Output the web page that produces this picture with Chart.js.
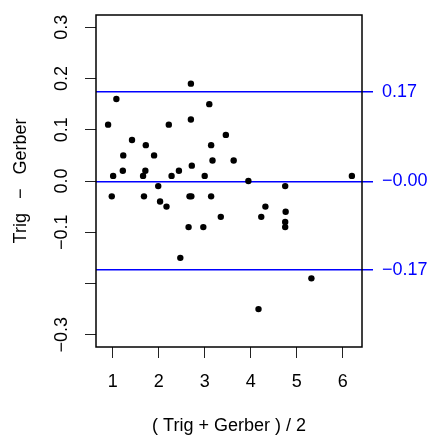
<!DOCTYPE html>
<html>
<head>
<meta charset="utf-8">
<script src="https://cdn.jsdelivr.net/npm/chart.js@4.4.1/dist/chart.umd.min.js"></script>
<style>
  html, body { margin: 0; padding: 0; background: #fff; }
  canvas { display: block; }
</style>
</head>
<body>
<canvas id="ba-chart" width="430" height="436"></canvas>
<script>
// mean of the two methods, and their difference
const meanValues = [
  2.70, 1.08, 3.10, 0.90, 2.22, 2.70, 3.46, 1.42, 1.72, 3.14, 1.23,
  1.90, 3.63, 3.17, 1.22, 1.71, 2.72, 2.44, 1.01, 1.66, 2.28, 3.00,
  1.99, 0.98, 1.68, 2.67, 2.71, 3.14, 2.03, 2.17, 3.95, 4.75, 6.20,
  4.32, 3.35, 2.65, 2.97, 2.47, 4.23, 4.76, 4.75, 4.75, 5.32, 4.17,
];
const diffValues = [
  0.19, 0.16, 0.15, 0.11, 0.11, 0.12, 0.09, 0.08, 0.07, 0.07, 0.05,
  0.05, 0.04, 0.04, 0.02, 0.02, 0.03, 0.02, 0.01, 0.01, 0.01, 0.01,
  -0.01, -0.03, -0.03, -0.03, -0.03, -0.03, -0.04, -0.05, 0.00, -0.01, 0.01,
  -0.05, -0.07, -0.09, -0.09, -0.15, -0.07, -0.06, -0.08, -0.09, -0.19, -0.25,
];

// mean difference and limits of agreement
const limitValues = [0.174, -0.001, -0.174];
const limitLabels = ['0.17', '\u22120.00', '\u22120.17'];

const xTicks = [1, 2, 3, 4, 5, 6];
const xTickLabels = ['1', '2', '3', '4', '5', '6'];
const yTicks = [-0.3, -0.2, -0.1, 0, 0.1, 0.2, 0.3];
const yTickLabels = ['\u22120.3', '', '\u22120.1', '0.0', '0.1', '0.2', '0.3'];

const xTitle = '( Trig + Gerber ) / 2';
const yTitle = 'Trig\u2002 \u2212 \u2002Gerber';

const FONT = { family: '"Liberation Sans", Arial, sans-serif', size: 18 };
const X_MIN = 0.637, X_MAX = 6.42;
const Y_MIN = -0.324, Y_MAX = 0.324;

const setTicks = (values) => (scale) => {
  scale.ticks = values.map((v) => ({ value: v }));
};

// fixed margins like the R plot, no extra room for edge labels
const fitTo = (size) => (scale) => {
  if (scale.isHorizontal()) {
    scale.height = size;
    scale.paddingLeft = 0;
    scale.paddingRight = 0;
  } else {
    scale.width = size;
    scale.paddingTop = 0;
    scale.paddingBottom = 0;
  }
};

const boxPlugin = {
  id: 'box',
  afterDraw(chart) {
    const { ctx, chartArea: a } = chart;
    ctx.save();
    ctx.strokeStyle = '#000';
    ctx.lineWidth = 1.5;
    ctx.strokeRect(a.left, a.top, a.right - a.left, a.bottom - a.top);
    ctx.restore();
  },
};

const ctx = document.getElementById('ba-chart');

new Chart(ctx, {
  type: 'scatter',
  data: {
    datasets: [
      {
        data: meanValues.map((m, i) => ({ x: m, y: diffValues[i] })),
        backgroundColor: '#000',
        borderWidth: 0,
        pointRadius: 3.2,
      },
    ],
  },
  options: {
    responsive: false,
    animation: false,
    devicePixelRatio: 1,
    layout: { padding: { top: 15, left: 0, right: 0, bottom: 0 } },
    plugins: {
      legend: { display: false },
      tooltip: { enabled: false },
    },
    scales: {
      x: {
        type: 'linear',
        position: 'bottom',
        min: X_MIN,
        max: X_MAX,
        afterBuildTicks: setTicks(xTicks),
        afterFit: fitTo(89),
        border: { display: false },
        grid: { drawOnChartArea: false, tickLength: 11, color: '#222', lineWidth: 1 },
        ticks: {
          color: '#000',
          font: FONT,
          padding: 13,
          maxRotation: 0,
          callback: (v, i) => xTickLabels[i],
        },
        title: { display: true, text: xTitle, color: '#000', font: FONT, padding: { top: 0, bottom: -1 } },
      },
      y: {
        type: 'linear',
        position: 'left',
        min: Y_MIN,
        max: Y_MAX,
        afterBuildTicks: setTicks(yTicks),
        afterFit: fitTo(96),
        border: { display: false },
        grid: { drawOnChartArea: false, tickLength: 11, color: '#222', lineWidth: 1 },
        ticks: {
          color: '#000',
          font: FONT,
          padding: 5,
          minRotation: 90,
          maxRotation: 90,
          crossAlign: 'center',
          callback: (v, i) => yTickLabels[i],
        },
        title: { display: true, text: yTitle, color: '#000', font: FONT, padding: { top: 10, bottom: 0 } },
      },
      y2: {
        type: 'linear',
        position: 'right',
        min: Y_MIN,
        max: Y_MAX,
        afterBuildTicks: setTicks(limitValues),
        afterFit: fitTo(68),
        border: { display: false },
        grid: { drawOnChartArea: true, tickLength: 11, color: '#0000ff', lineWidth: 1.5 },
        ticks: {
          color: '#0000ff',
          font: FONT,
          padding: 9,
          callback: (v, i) => limitLabels[i],
        },
      },
    },
  },
  plugins: [boxPlugin],
});
</script>
</body>
</html>
